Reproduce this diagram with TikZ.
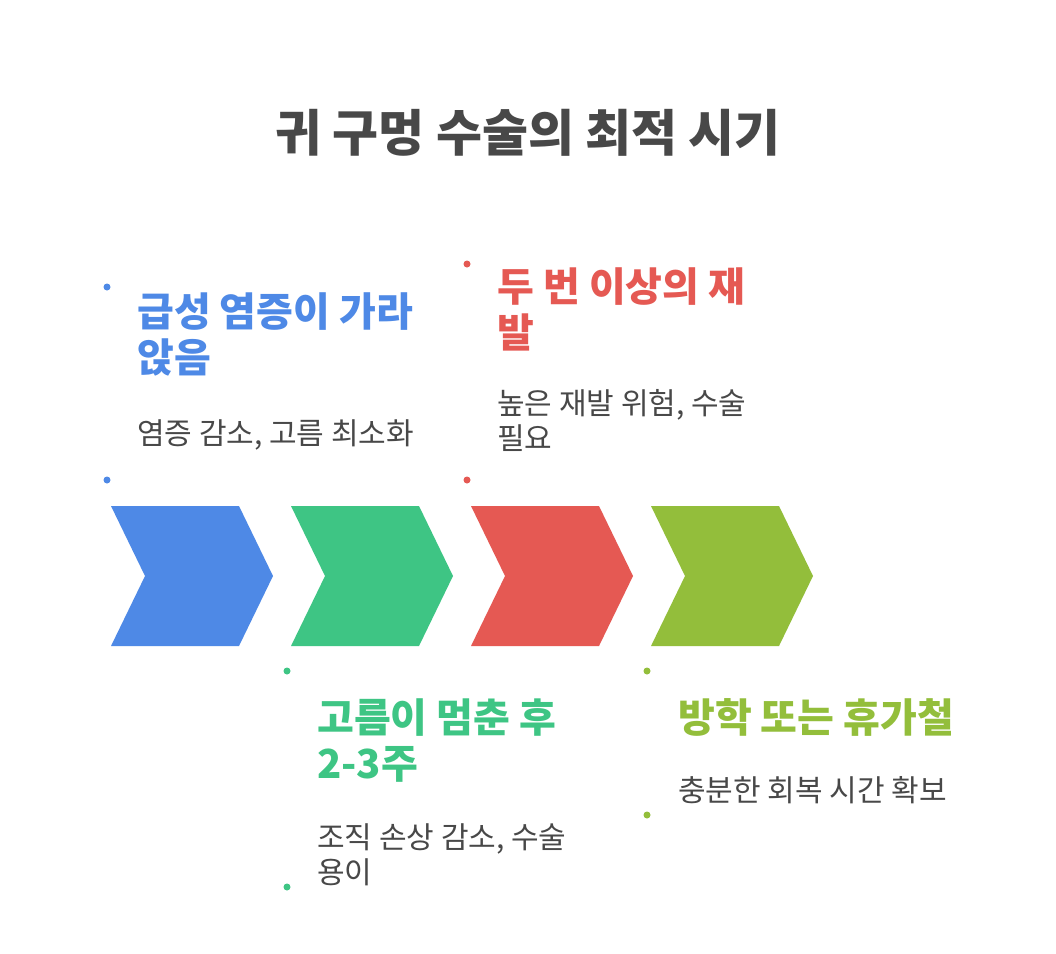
\documentclass[tikz,border=0pt]{standalone}
\usepackage{fontspec}
\setmainfont{Noto Sans CJK KR}
\definecolor{cblue}{HTML}{4E89E6}
\definecolor{cgreen}{HTML}{3EC584}
\definecolor{cred}{HTML}{E55953}
\definecolor{colive}{HTML}{93BE3B}
\definecolor{ctext}{HTML}{484848}
\begin{document}
\begin{tikzpicture}[x=1pt,y=-1pt,
  heading/.style={anchor=base west,inner sep=0pt,align=left,font=\fontsize{40}{46}\selectfont\bfseries},
  body/.style={anchor=base west,inner sep=0pt,align=left,text=ctext,font=\fontsize{30}{35}\selectfont},
  dotmark/.style={circle,inner sep=0pt,minimum size=7pt},
]
\useasboundingbox[fill=white] (0,0) rectangle (1056,953);
\node[anchor=base,inner sep=0pt,text=ctext,font=\fontsize{50}{58}\selectfont\bfseries] (title) at (528,151) {귀 구멍 수술의 최적 시기};
% chevrons
\foreach \i/\c/\n in {0/cblue/a,1/cgreen/b,2/cred/c,3/colive/d}{
  \fill[\c] ({111+180*\i},506) -- ({239+180*\i},506) -- ({273+180*\i},576) -- ({239+180*\i},646) -- ({111+180*\i},646) -- ({145+180*\i},576) -- cycle;
}
% dots
\node[dotmark,fill=cblue] (d1a) at (107,287) {};
\node[dotmark,fill=cblue] (d1b) at (107,480) {};
\node[dotmark,fill=cred] (d3a) at (467,264) {};
\node[dotmark,fill=cred] (d3b) at (467,480) {};
\node[dotmark,fill=cgreen] (d2a) at (287,671) {};
\node[dotmark,fill=cgreen] (d2b) at (287,887) {};
\node[dotmark,fill=colive] (d4a) at (647,671) {};
\node[dotmark,fill=colive] (d4b) at (647,815) {};
% texts (base anchor of a multi-line node = baseline of its last line)
\node[heading,text=cblue] (h1) at (137,372) {급성 염증이 가라\\앉음};
\node[body] (b1) at (137,444) {염증 감소, 고름 최소화};
\node[heading,text=cred] (h3) at (497,347) {두 번 이상의 재\\발};
\node[body] (b3) at (497,449) {높은 재발 위험, 수술\\필요};
\node[heading,text=cgreen] (h2) at (317,778) {고름이 멈춘 후\\2-3주};
\node[body] (b2) at (317,883) {조직 손상 감소, 수술\\용이};
\node[heading,text=colive] (h4) at (678,732) {방학 또는 휴가철};
\node[body] (b4) at (678,801) {충분한 회복 시간 확보};
\end{tikzpicture}
\end{document}
